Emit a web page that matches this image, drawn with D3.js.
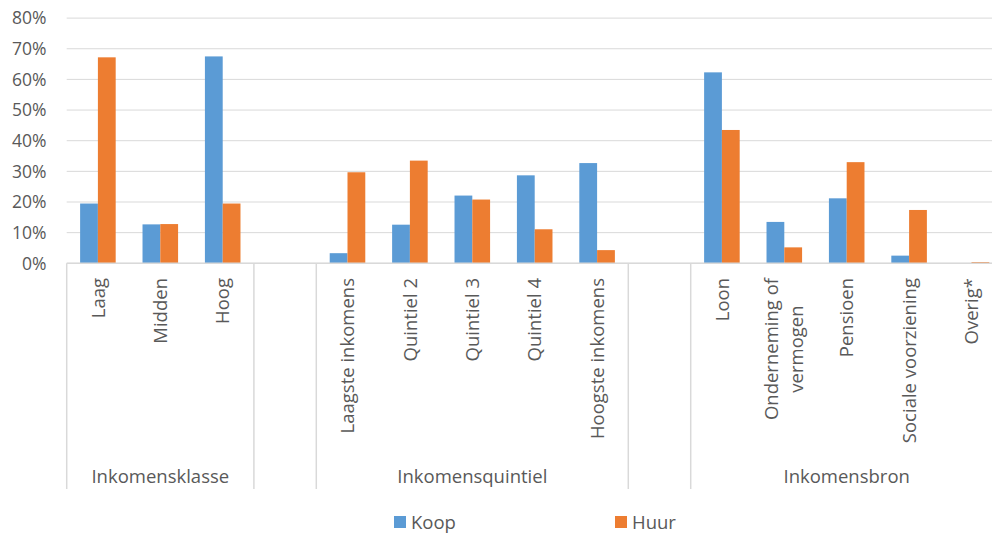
<!DOCTYPE html>
<html>
<head>
<meta charset="utf-8">
<script src="https://cdn.jsdelivr.net/npm/d3@7"></script>
<style>
    body { margin: 0; background: #fff; }
    svg { display: block; font-family: "Open Sans", sans-serif; }
    .grid line { stroke: #d9d9d9; }
    text { fill: #595959; }
</style>
</head>
<body>
<div id="chart"></div>
<script>
// Data: share of households (%) per category, Koop vs Huur
const groups = ["Inkomensklasse", "Inkomensquintiel", "Inkomensbron"];
const groupSizes = [3, 5, 5];
const categories = [
    "Laag", "Midden", "Hoog",
    "Laagste inkomens", "Quintiel 2", "Quintiel 3", "Quintiel 4", "Hoogste inkomens",
    "Loon", "Onderneming of\nvermogen", "Pensioen", "Sociale voorziening", "Overig*"
];
const koop = [19.5, 12.7, 67.5, 3.3, 12.6, 22.1, 28.7, 32.7, 62.3, 13.5, 21.2, 2.5, 0];
const huur = [67.2, 12.8, 19.5, 29.7, 33.5, 20.8, 11.1, 4.3, 43.5, 5.2, 33.0, 17.4, 0.4];
const series = ["Koop", "Huur"];
const colors = ["#5b9bd5", "#ed7d31"];
const yTicks = [0, 10, 20, 30, 40, 50, 60, 70, 80];

const width = 992;
const height = 534;
const plot = { left: 66.7, right: 1002.7, top: 18.1, bottom: 263.3 };
const axisBottom = 489;
const labelSize = "18.5px";

const svg = d3.select("#chart").append("svg")
    .attr("width", width)
    .attr("height", height);

// Build slots: categories with an empty slot between groups
const slots = [];
const groupRanges = [];
let ci = 0;
groupSizes.forEach((n, g) => {
    if (g > 0) slots.push({ id: "gap" + g, blank: true });
    const first = slots.length;
    for (let k = 0; k < n; k++, ci++) {
        slots.push({ id: "c" + ci, name: categories[ci], values: [koop[ci], huur[ci]] });
    }
    groupRanges.push({ name: groups[g], first: first, last: slots.length - 1 });
});

const x = d3.scaleBand()
    .domain(slots.map(d => d.id))
    .range([plot.left, plot.right])
    .padding(0);

const pairWidth = x.bandwidth() * 0.57;
const xInner = d3.scaleBand()
    .domain(series)
    .range([0, pairWidth]);

const y = d3.scaleLinear()
    .domain([0, 80])
    .range([plot.bottom, plot.top]);

// Gridlines
svg.append("g")
    .attr("class", "grid")
    .selectAll("line")
    .data(yTicks)
    .enter()
    .append("line")
    .attr("x1", plot.left)
    .attr("x2", plot.right)
    .attr("y1", d => y(d))
    .attr("y2", d => y(d))
    .attr("stroke-width", 1);

// Y axis labels
svg.append("g")
    .selectAll("text")
    .data(yTicks)
    .enter()
    .append("text")
    .attr("x", 46.5)
    .attr("y", d => y(d))
    .attr("dy", "0.36em")
    .attr("text-anchor", "end")
    .style("font-size", "17.5px")
    .text(d => d + "%");

// Bars
const catSlots = slots.filter(d => !d.blank);
const barGroups = svg.append("g")
    .selectAll("g")
    .data(catSlots)
    .enter()
    .append("g")
    .attr("transform", d => `translate(${x(d.id) + (x.bandwidth() - pairWidth) / 2},0)`);

barGroups.selectAll("rect")
    .data(d => d.values.map((v, i) => ({ key: series[i], value: v, i: i })))
    .enter()
    .append("rect")
    .attr("x", d => xInner(d.key))
    .attr("width", xInner.bandwidth())
    .attr("y", d => y(d.value))
    .attr("height", d => y(0) - y(d.value))
    .attr("fill", d => colors[d.i]);

// X axis line and group separators
svg.append("line")
    .attr("x1", plot.left).attr("x2", plot.right)
    .attr("y1", y(0)).attr("y2", y(0))
    .attr("stroke", "#d9d9d9").attr("stroke-width", 1.5);

const sepX = [plot.left];
groupRanges.forEach((g, i) => {
    const end = x(slots[g.last].id) + x.bandwidth();
    sepX.push(end);
    if (i < groupRanges.length - 1) sepX.push(end + x.bandwidth());
});
svg.append("g")
    .selectAll("line")
    .data(sepX)
    .enter()
    .append("line")
    .attr("x1", d => d).attr("x2", d => d)
    .attr("y1", y(0)).attr("y2", axisBottom)
    .attr("stroke", "#d9d9d9").attr("stroke-width", 1.5);

// Category labels (rotated, multi-line centred on each other)
const labelTop = 278;
const lineHeight = 25;
catSlots.forEach(d => {
    const lines = d.name.split("\n");
    const cx = x(d.id) + x.bandwidth() / 2;
    const t = svg.append("text")
        .attr("transform", `translate(${cx},${labelTop}) rotate(-90)`)
        .style("font-size", labelSize)
        .attr("text-anchor", "middle");
    const spans = lines.map((s, i) => t.append("tspan")
        .attr("x", 0)
        .attr("y", (i - (lines.length - 1) / 2) * lineHeight)
        .attr("dy", "0.36em")
        .text(s));
    const maxLen = d3.max(spans, s => s.node().getComputedTextLength());
    spans.forEach(s => s.attr("x", -maxLen / 2));
});

// Group labels
svg.append("g")
    .selectAll("text")
    .data(groupRanges)
    .enter()
    .append("text")
    .attr("x", d => (x(slots[d.first].id) + x(slots[d.last].id) + x.bandwidth()) / 2)
    .attr("y", 483)
    .attr("text-anchor", "middle")
    .style("font-size", labelSize)
    .text(d => d.name);

// Legend
const legendX = [394, 615];
const legend = svg.append("g")
    .selectAll("g")
    .data(series)
    .enter()
    .append("g")
    .attr("transform", (d, i) => `translate(${legendX[i]},516)`);
legend.append("rect")
    .attr("width", 12).attr("height", 12)
    .attr("fill", (d, i) => colors[i]);
legend.append("text")
    .attr("x", 17)
    .attr("y", 12.5)
    .style("font-size", labelSize)
    .text(d => d);
</script>
</body>
</html>
